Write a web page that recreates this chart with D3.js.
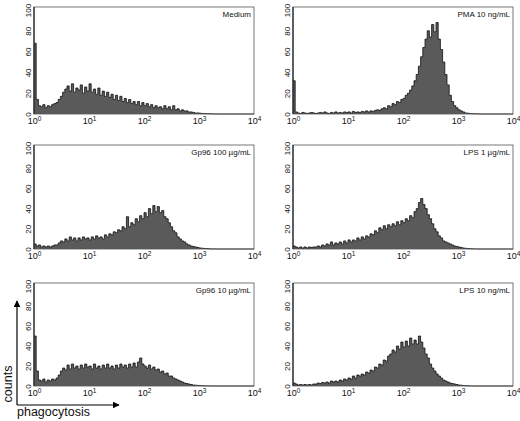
<!DOCTYPE html>
<html>
<head>
<meta charset="utf-8">
<script src="https://cdn.jsdelivr.net/npm/d3@7"></script>
<style>
  body { margin: 0; background: #fff; }
  svg { display: block; }
</style>
</head>
<body>
<script>
// histogram counts, 100 channels of 0.04 decade each from 10^0 to 10^4
let medium = [68,14,8,7,9,6,8,7,9,10, 11,14,17,21,24,27,22,29,21,25,
  23,28,20,26,22,29,21,24,19,25, 18,22,17,21,16,19,14,18,13,17,
  12,15,11,14,10,12,9,12,8,11, 8,10,7,9,6,8,6,7,5,8,
  5,7,4,8,4,5,3,4,3,3, 2,2,1.5,1,1,0.8,0.5,0.5,0.3,0.3,
  0.2,0.1,0.1,0.1,0,0,0,0,0,0, 0,0,0,0,0,0,0,0,0,0];

let pma = [32,2,1,0.5,1.5,1,0.5,1,1.5,1, 0.5,1,1.5,1,2,1,0.5,1.5,1,2,
  1,1.5,1,2,1.5,2,1,2.5,1.5,2, 1.5,2.5,2,3,2,3,2.5,3.5,4,3.5,
  5,6,5,8,7,10,9,12,11,14, 15,18,20,23,27,32,38,46,55,64,
  72,80,74,86,79,88,72,62,50,38, 28,18,12,8,6,4,3,2,1,0.8,
  0.5,0.3,0.2,0.2,0.1,0,0,0,0,0, 0,0,0,0,0,0,0,0,0,0];

let gp96High = [5,3,4,2,3,2,3,2,3,4, 4,6,8,7,10,8,12,9,11,8,
  11,9,12,10,11,9,12,10,13,11, 12,10,14,12,15,14,17,16,19,18,
  22,20,32,22,26,24,30,27,33,30, 36,32,40,35,43,37,42,36,38,32,
  30,26,22,18,16,12,10,8,7,5, 4,3,2.5,2,1.5,1,0.8,0.5,0.4,0.3,
  0.1,0.1,0.1,0,0,0,0,0,0,0, 0,0,0,0,0,0,0,0,0,0];

let lps1 = [3,2,1,2,1,2,1,2,1.5,2, 2,3,2,4,3,5,4,7,4,6,
  5,7,5,8,6,9,7,9,8,11, 9,12,10,13,12,15,14,18,16,21,
  19,23,20,24,22,25,23,27,24,28, 26,30,28,33,31,37,40,46,50,44,
  40,34,30,25,20,17,13,11,8,7, 6,5,4,3,2.5,2,1.5,1,0.7,0.5,
  0.3,0.2,0.1,0.1,0,0,0,0,0,0, 0,0,0,0,0,0,0,0,0,0];

let gp96Low = [50,15,6,5,7,4,6,5,7,6, 8,11,15,18,16,21,17,22,18,20,
  17,21,18,22,19,20,17,22,18,20, 17,21,18,22,18,20,17,21,18,22,
  19,21,18,22,19,23,19,24,28,22, 20,18,21,17,19,16,17,14,15,12,
  13,10,10,8,7,6,5,4,3,2.5, 2,1.5,1,0.8,0.6,0.5,0.3,0.2,0.1,0.1,
  0.1,0,0,0,0,0,0,0,0,0, 0,0,0,0,0,0,0,0,0,0];

let lps10 = [3,2,1,1.5,1,1.5,1,1.5,1,2, 2,3,2.5,3.5,3,4,3,5,4,5,
  4,6,5,7,6,8,7,10,8,11, 10,12,11,14,13,16,15,19,18,22,
  21,26,25,30,32,36,34,40,37,44, 39,45,40,48,42,46,42,50,44,38,
  32,28,22,18,15,12,10,8,6,5, 4,3,2.5,2,1.5,1,0.8,0.5,0.3,0.2,
  0.1,0.1,0,0,0,0,0,0,0,0, 0,0,0,0,0,0,0,0,0,0];

let panelNames = ["Medium", "PMA 10 ng/mL", "Gp96 100 \u00b5g/mL", "LPS 1 \u00b5g/mL", "Gp96 10 \u00b5g/mL", "LPS 10 ng/mL"];
let panelCounts = [medium, pma, gp96High, lps1, gp96Low, lps10];
let yTicks = [0, 20, 40, 60, 80, 100];
let xTicks = [1, 10, 100, 1000, 10000];

let binWidth = 0.04;
let colLeft = [34, 293];
let rowTop = [7, 145, 283];
let rowHeight = [107, 104, 103];
let plotWidth = 220;

const svg = d3.select("body")
  .append("svg")
  .attr("width", 520)
  .attr("height", 421)
  .attr("font-family", "'Liberation Sans', Arial, sans-serif");

const x = d3.scaleLog().domain([1, 10000]).range([0, plotWidth]);

panelCounts.forEach(function(counts, k) {
  let col = k % 2;
  let row = Math.floor(k / 2);
  let h = rowHeight[row];

  const y = d3.scaleLinear().domain([0, 100]).range([h, 3]);

  const g = svg.append("g")
    .attr("transform", "translate(" + colLeft[col] + "," + rowTop[row] + ")");

  // each bin starts at 10^(i*binWidth); repeat the last value to close the step
  let pts = counts.map(function(d, i) {
    return { e: Math.pow(10, i * binWidth), c: d };
  });
  pts.push({ e: 10000, c: counts[counts.length - 1] });

  const area = d3.area()
    .curve(d3.curveStepAfter)
    .x(function(d) { return x(d.e); })
    .y0(h)
    .y1(function(d) { return y(d.c); });

  const line = d3.line()
    .curve(d3.curveStepAfter)
    .x(function(d) { return x(d.e); })
    .y(function(d) { return y(d.c); });

  g.append("path")
    .datum(pts)
    .attr("d", area)
    .attr("fill", "#5a5a5a");

  g.append("path")
    .datum(pts)
    .attr("d", line)
    .attr("fill", "none")
    .attr("stroke", "#111")
    .attr("stroke-width", 0.8);

  g.append("rect")
    .attr("x", 0)
    .attr("y", 0)
    .attr("width", plotWidth)
    .attr("height", h)
    .attr("fill", "none")
    .attr("stroke", "#555")
    .attr("stroke-width", 0.8);

  g.append("line")
    .attr("x1", 0).attr("x2", 0)
    .attr("y1", 0).attr("y2", h)
    .attr("stroke", "#222")
    .attr("stroke-width", 1.2);

  const yAxis = g.append("g")
    .call(d3.axisLeft(y).tickValues(yTicks).tickSize(0));
  yAxis.select(".domain").remove();
  yAxis.selectAll(".tick text")
    .attr("transform", "rotate(-90)")
    .attr("x", 0)
    .attr("y", -3)
    .attr("dy", 0)
    .attr("text-anchor", "middle")
    .attr("font-size", "8px")
    .attr("font-family", "'Liberation Sans', Arial, sans-serif")
    .attr("fill", "#111");

  const xAxis = g.append("g")
    .attr("transform", "translate(0," + h + ")")
    .call(d3.axisBottom(x).tickValues(xTicks).tickSize(0).tickFormat(function() { return ""; }));
  xAxis.select(".domain").remove();
  xAxis.selectAll(".tick text")
    .attr("y", 10)
    .attr("dy", 0)
    .attr("font-size", "9px")
    .attr("font-family", "'Liberation Sans', Arial, sans-serif")
    .attr("fill", "#111")
    .each(function(d) {
      const t = d3.select(this);
      t.append("tspan").text("10");
      t.append("tspan")
        .attr("dy", "-0.45em")
        .attr("font-size", "6.5px")
        .text(Math.round(Math.log10(d)));
    });

  g.append("text")
    .attr("x", plotWidth - 3)
    .attr("y", 10)
    .attr("text-anchor", "end")
    .attr("font-size", "8px")
    .attr("fill", "#111")
    .text(panelNames[k]);
});

// "counts" / "phagocytosis" arrows in the corner
const defs = svg.append("defs");
defs.append("marker")
  .attr("id", "arrow")
  .attr("viewBox", "0 0 10 10")
  .attr("refX", 9)
  .attr("refY", 5)
  .attr("markerWidth", 7)
  .attr("markerHeight", 7)
  .attr("markerUnits", "userSpaceOnUse")
  .attr("orient", "auto")
  .append("path")
  .attr("d", "M0,0L10,5L0,10Z")
  .attr("fill", "#000");

svg.append("line")
  .attr("x1", 17).attr("y1", 405)
  .attr("x2", 17).attr("y2", 301)
  .attr("stroke", "#000")
  .attr("stroke-width", 1.2)
  .attr("marker-end", "url(#arrow)");

svg.append("line")
  .attr("x1", 17).attr("y1", 405)
  .attr("x2", 119).attr("y2", 405)
  .attr("stroke", "#000")
  .attr("stroke-width", 1.2)
  .attr("marker-end", "url(#arrow)");

svg.append("text")
  .attr("transform", "translate(12,384) rotate(-90)")
  .attr("text-anchor", "middle")
  .attr("font-size", "12.5px")
  .attr("fill", "#111")
  .text("counts");

svg.append("text")
  .attr("x", 17)
  .attr("y", 416)
  .attr("font-size", "12.5px")
  .attr("fill", "#111")
  .text("phagocytosis");
</script>
</body>
</html>
